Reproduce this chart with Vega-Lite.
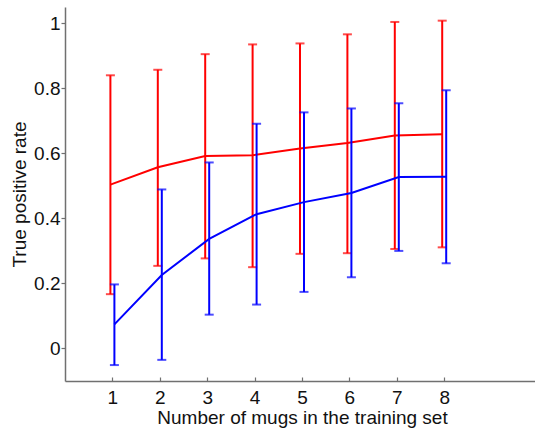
{
  "$schema": "https://vega.github.io/schema/vega-lite/v6.json",
  "autosize": {"type": "none"},
  "padding": {"left": 65, "top": 7, "right": 0, "bottom": 50},
  "width": 474,
  "height": 374,
  "background": "white",
  "config": {
    "view": {"stroke": null},
    "font": "Liberation Sans",
    "axis": {
      "grid": false,
      "domainColor": "#707070",
      "domainWidth": 1.5,
      "tickColor": "#707070",
      "tickWidth": 1.2,
      "labelFont": "Liberation Sans",
      "labelFontSize": 19,
      "labelColor": "#111",
      "titleFont": "Liberation Sans",
      "titleFontSize": 19,
      "titleFontWeight": "normal",
      "titleColor": "#111"
    }
  },
  "data": {
    "values": [
      {"series": "red", "n": 1, "mean": 0.504, "lo": 0.167, "hi": 0.840},
      {"series": "red", "n": 2, "mean": 0.557, "lo": 0.254, "hi": 0.857},
      {"series": "red", "n": 3, "mean": 0.592, "lo": 0.277, "hi": 0.905},
      {"series": "red", "n": 4, "mean": 0.594, "lo": 0.250, "hi": 0.935},
      {"series": "red", "n": 5, "mean": 0.615, "lo": 0.291, "hi": 0.938},
      {"series": "red", "n": 6, "mean": 0.632, "lo": 0.293, "hi": 0.966},
      {"series": "red", "n": 7, "mean": 0.655, "lo": 0.306, "hi": 1.004},
      {"series": "red", "n": 8, "mean": 0.659, "lo": 0.311, "hi": 1.008},
      {"series": "blue", "n": 1, "mean": 0.074, "lo": -0.051, "hi": 0.197},
      {"series": "blue", "n": 2, "mean": 0.226, "lo": -0.035, "hi": 0.489},
      {"series": "blue", "n": 3, "mean": 0.337, "lo": 0.104, "hi": 0.572},
      {"series": "blue", "n": 4, "mean": 0.413, "lo": 0.135, "hi": 0.691},
      {"series": "blue", "n": 5, "mean": 0.450, "lo": 0.174, "hi": 0.726},
      {"series": "blue", "n": 6, "mean": 0.478, "lo": 0.219, "hi": 0.738},
      {"series": "blue", "n": 7, "mean": 0.527, "lo": 0.300, "hi": 0.754},
      {"series": "blue", "n": 8, "mean": 0.528, "lo": 0.262, "hi": 0.794}
    ]
  },
  "encoding": {
    "x": {
      "field": "n", "type": "quantitative",
      "scale": {"domain": [0, 10], "nice": false, "zero": false},
      "axis": {"values": [1, 2, 3, 4, 5, 6, 7, 8], "title": "Number of mugs in the training set", "tickSize": -4, "labelPadding": 11, "titlePadding": 1, "labelFlush": false}
    }
  },
  "layer": [
    {
      "transform": [{"filter": "datum.series === 'red'"}],
      "layer": [
        {"mark": {"type": "rule", "color": "#ff0000", "strokeWidth": 2, "xOffset": -2}, "encoding": {"y": {"field": "lo", "type": "quantitative"}, "y2": {"field": "hi"}}},
        {"mark": {"type": "tick", "orient": "horizontal", "color": "#ff0000", "size": 9, "thickness": 2, "xOffset": -2}, "encoding": {"y": {"field": "lo", "type": "quantitative"}}},
        {"mark": {"type": "tick", "orient": "horizontal", "color": "#ff0000", "size": 9, "thickness": 2, "xOffset": -2}, "encoding": {"y": {"field": "hi", "type": "quantitative"}}},
        {"mark": {"type": "line", "color": "#ff0000", "strokeWidth": 2, "xOffset": -2}, "encoding": {"y": {"field": "mean", "type": "quantitative"}}}
      ]
    },
    {
      "transform": [{"filter": "datum.series === 'blue'"}],
      "layer": [
        {"mark": {"type": "rule", "color": "#0000ff", "strokeWidth": 2, "xOffset": 2}, "encoding": {"y": {"field": "lo", "type": "quantitative"}, "y2": {"field": "hi"}}},
        {"mark": {"type": "tick", "orient": "horizontal", "color": "#0000ff", "size": 9, "thickness": 2, "xOffset": 2}, "encoding": {"y": {"field": "lo", "type": "quantitative"}}},
        {"mark": {"type": "tick", "orient": "horizontal", "color": "#0000ff", "size": 9, "thickness": 2, "xOffset": 2}, "encoding": {"y": {"field": "hi", "type": "quantitative"}}},
        {"mark": {"type": "line", "color": "#0000ff", "strokeWidth": 2, "xOffset": 2}, "encoding": {"y": {"field": "mean", "type": "quantitative"}}}
      ]
    },
    {
      "mark": {"type": "rule", "opacity": 0},
      "encoding": {
        "y": {
          "field": "mean", "type": "quantitative",
          "scale": {"domain": [-0.1, 1.05], "nice": false, "zero": false},
          "axis": {"values": [0, 0.2, 0.4, 0.6, 0.8, 1], "format": "~g", "title": "True positive rate", "tickSize": 4, "labelPadding": 1, "titlePadding": 4, "labelFlush": false}
        }
      }
    }
  ],
  "resolve": {"scale": {"y": "shared"}}
}
